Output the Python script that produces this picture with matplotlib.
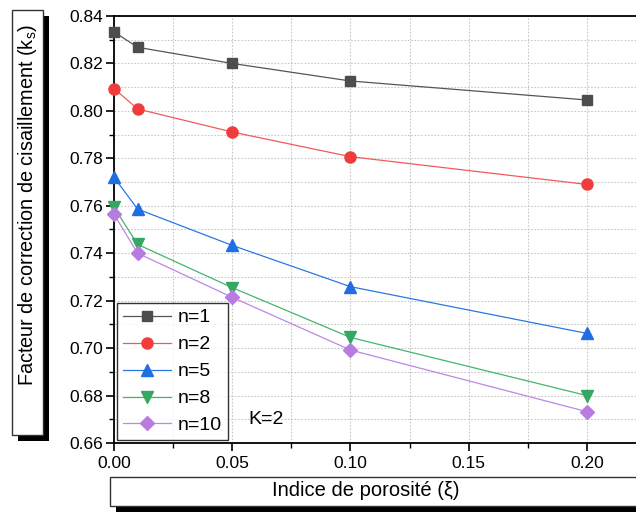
import matplotlib
matplotlib.use('Agg')
import matplotlib.pyplot as plt
from matplotlib.patches import Rectangle
from matplotlib.ticker import MultipleLocator

plt.rcParams['font.family'] = ['Liberation Sans', 'DejaVu Sans']

# porosity index values and k_s for each n
xi = [0.0, 0.01, 0.05, 0.10, 0.20]
ks_n1 = [0.8333, 0.8268, 0.8200, 0.8126, 0.8046]
ks_n2 = [0.8094, 0.8008, 0.7911, 0.7807, 0.7690]
ks_n5 = [0.7720, 0.7586, 0.7433, 0.7259, 0.7062]
ks_n8 = [0.7594, 0.7437, 0.7255, 0.7045, 0.6800]
ks_n10 = [0.7564, 0.7400, 0.7214, 0.6992, 0.6732]
labels = ['n=1', 'n=2', 'n=5', 'n=8', 'n=10']

W, H = 636, 513
fig = plt.figure(figsize=(W / 100, H / 100), dpi=100)

# axes in pixel terms; right end runs past the figure edge
x0, x1, ytop, ybot = 114, 646, 16, 443
ax = fig.add_axes([x0 / W, (H - ybot) / H, (x1 - x0) / W, (ybot - ytop) / H])

series = [ks_n1, ks_n2, ks_n5, ks_n8, ks_n10]
colors = ['#4d4d4d', '#f03c3c', '#1f6fe3', '#34a861', '#b87be0']
line_colors = ['#555555', '#f25a5a', '#2b78e4', '#45b46e', '#bb88e6']
markers = ['s', 'o', '^', 'v', 'D']
msizes = [7, 8, 8, 8, 7]

handles = []
for ys, c, lc, m, ms in zip(series, colors, line_colors, markers, msizes):
    h, = ax.plot(xi, ys, color=lc, linewidth=0.9, marker=m, markersize=ms,
                 markerfacecolor=c, markeredgecolor=c, clip_on=False, zorder=3)
    handles.append(h)

ax.set_xlim(0, 0.225)
ax.set_ylim(0.66, 0.84)
ax.xaxis.set_major_locator(MultipleLocator(0.05))
ax.xaxis.set_minor_locator(MultipleLocator(0.025))
ax.yaxis.set_major_locator(MultipleLocator(0.02))
ax.yaxis.set_minor_locator(MultipleLocator(0.01))
ax.xaxis.set_major_formatter(lambda v, p: '%.2f' % v)
ax.yaxis.set_major_formatter(lambda v, p: '%.2f' % v)

ax.grid(which='both', color='#c8c8c8', linestyle=(0, (1.5, 1.5)), linewidth=0.8)
ax.set_axisbelow(True)
for s in ax.spines.values():
    s.set_linewidth(1.3)
ax.tick_params(which='major', direction='out', length=6, width=1.2, labelsize=12.5, pad=1.5)
ax.tick_params(which='minor', direction='out', length=3.5, width=1.0)
ax.tick_params(axis='x', which='major', pad=3)

leg = ax.legend(handles, labels, loc='lower left', bbox_to_anchor=(0.0, 0.0),
                fontsize=14, frameon=True, fancybox=False, handlelength=2.5,
                handletextpad=0.35, borderpad=0.3, labelspacing=0.48,
                borderaxespad=0.15)
leg.get_frame().set_edgecolor('black')
leg.get_frame().set_linewidth(1.0)

ax.text(0.0567, 0.668, 'K=2', fontsize=14)


def label_box(left, top, right, bottom, text, size, tx, ty, rotation=0):
    # white box with a black drop shadow, drawn in figure pixels
    sh = 6
    fig.patches.append(Rectangle(((left + sh) / W, (H - bottom - sh) / H),
                                 (right - left) / W, (bottom - top) / H,
                                 transform=fig.transFigure, facecolor='black',
                                 edgecolor='none', zorder=1))
    fig.patches.append(Rectangle((left / W, (H - bottom) / H),
                                 (right - left) / W, (bottom - top) / H,
                                 transform=fig.transFigure, facecolor='white',
                                 edgecolor='#333333', linewidth=1.0, zorder=2))
    fig.text(tx / W, 1 - ty / H, text, rotation=rotation, ha='center',
             va='center', fontsize=size, zorder=3)


label_box(12, 10, 43, 435, 'Facteur de correction de cisaillement (k$_\\mathregular{s}$)',
          14.3, 27.5, 205, rotation=90)
label_box(110, 477, 650, 506, 'Indice de porosité (ξ)', 14.5, 366, 491)

fig.savefig('out.png', dpi=100)
